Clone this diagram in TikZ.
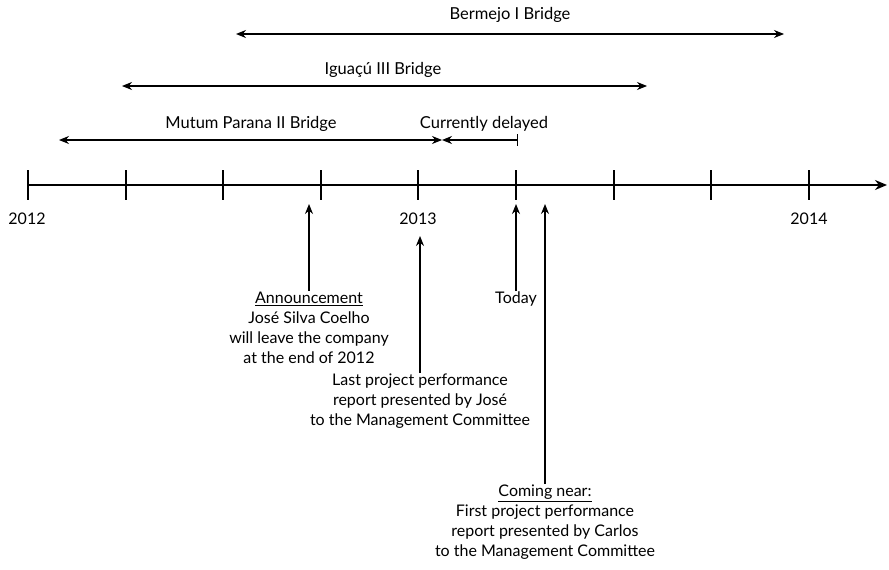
\documentclass[tikz,border=0pt]{standalone}
\usepackage{fontspec}
\setmainfont{Lato}
\usepackage{tikz}
\usetikzlibrary{arrows.meta}

\tikzset{
  axisline/.style={line width=1.8pt,-{Stealth[length=12pt,width=10pt]}},
  tickline/.style={line width=1.6pt},
  spanline/.style={line width=1.1pt},
  pointer/.style={line width=1.3pt,-{Stealth[length=10pt,width=8pt]}},
  note/.style={align=center,font=\fontsize{16}{20}\selectfont,inner sep=1pt},
  spanlabel/.style={font=\fontsize{16.5}{18}\selectfont,inner sep=1pt}
}

\begin{document}
\begin{tikzpicture}[x=1pt,y=-1pt]
  \useasboundingbox (0,0) rectangle (889,570);

  % time axis
  \coordinate (axstart) at (28,185);
  \coordinate (axend) at (887,185);
  \draw[axisline] (axstart) -- (axend);
  \foreach \x in {28,126,223,321,418,516,614,711,809} {
    \draw[tickline] (\x,170) -- (\x,200);
  }
  \node[note] (y2012) at (27,219) {2012};
  \node[note] (y2013) at (418,219) {2013};
  \node[note] (y2014) at (809,219) {2014};

  % bridges
  \coordinate (bermejoL) at (236,34);
  \coordinate (bermejoR) at (784,34);
  \draw[spanline,{Stealth[length=10pt,width=8pt]}-{Stealth[length=10pt,width=8pt]}] (bermejoL) -- (bermejoR);
  \node[spanlabel] (bermejo) at (510,15) {Bermejo I Bridge};

  \coordinate (iguacuL) at (122,86);
  \coordinate (iguacuR) at (647,86);
  \draw[spanline,{Stealth[length=10pt,width=8pt]}-{Stealth[length=10pt,width=8pt]}] (iguacuL) -- (iguacuR);
  \node[spanlabel] (iguacu) at (383,70) {Iguaçú III Bridge};

  \coordinate (mutumL) at (59,140);
  \coordinate (mutumR) at (442,140);
  \coordinate (delayR) at (518,140);
  \draw[spanline,{Stealth[length=10pt,width=8pt]}-{Stealth[length=10pt,width=8pt]}] (mutumL) -- (mutumR);
  \draw[spanline,{Stealth[length=10pt,width=8pt]}-{Bar[width=12pt]}] (mutumR) -- (delayR);
  \node[spanlabel] (mutum) at (251,124) {Mutum Parana II Bridge};
  \node[spanlabel] (delay) at (484,124) {Currently delayed};

  % events
  \node[note,anchor=north] (announce) at (309,291)
    {\underline{Announcement}\\José Silva Coelho\\will leave the company\\at the end of 2012};
  \node[note,anchor=north] (lastrep) at (420,373)
    {Last project performance\\report presented by José\\to the Management Committee};
  \node[note,anchor=north] (today) at (516,291) {Today};
  \node[note,anchor=north] (firstrep) at (545,484)
    {\underline{Coming near:}\\First project performance\\report presented by Carlos\\to the Management Committee};

  \coordinate (announceTop) at (309,204);
  \coordinate (lastrepTop) at (420,236);
  \coordinate (todayTop) at (516,204);
  \coordinate (firstrepTop) at (545,204);
  \draw[pointer] (announce.north) -- (announceTop);
  \draw[pointer] (lastrep.north) -- (lastrepTop);
  \draw[pointer] (today.north) -- (todayTop);
  \draw[pointer] (firstrep.north) -- (firstrepTop);
\end{tikzpicture}
\end{document}
